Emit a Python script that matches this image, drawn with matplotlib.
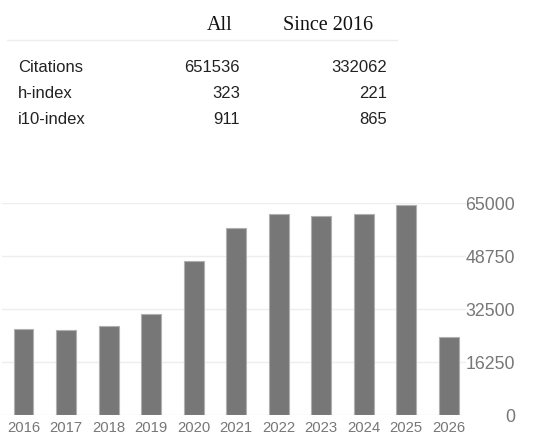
import matplotlib
matplotlib.use("Agg")
import matplotlib.pyplot as plt
from matplotlib.lines import Line2D

# summary table
col_headers = ["All", "Since 2016"]
metrics = ["Citations", "h-index", "i10-index"]
all_vals = [651536, 323, 911]
since_vals = [332062, 221, 865]

# citations per year
years = [2016, 2017, 2018, 2019, 2020, 2021, 2022, 2023, 2024, 2025, 2026]
cites = [26300, 26000, 27300, 30900, 47200, 57300, 61800, 61200, 61600, 64500, 23850]
yticks = [0, 16250, 32500, 48750, 65000]

W, H = 537, 446
fig = plt.figure(figsize=(W / 100, H / 100), dpi=100)


def fx(px):
    return px / W


def fy(py):
    return 1 - py / H


# table header
fig.text(fx(233), fy(29.5), col_headers[0], ha="right", va="baseline",
         family="Liberation Serif", fontsize=14.5, color="#111111")
fig.text(fx(373), fy(29.5), col_headers[1], ha="right", va="baseline",
         family="Liberation Serif", fontsize=14.5, color="#111111")
fig.add_artist(Line2D([fx(7), fx(397)], [fy(40), fy(40)], color="#eeeeee", lw=1))

# table rows
for i, name in enumerate(metrics):
    yb = fy(71.7 + 26.2 * i)
    fig.text(fx(18), yb, name, ha="left", va="baseline",
             family="Liberation Sans", fontsize=12, color="#222222")
    fig.text(fx(240), yb, str(all_vals[i]), ha="right", va="baseline",
             family="Liberation Sans", fontsize=12, color="#222222")
    fig.text(fx(387), yb, str(since_vals[i]), ha="right", va="baseline",
             family="Liberation Sans", fontsize=12, color="#222222")

# bar chart
ax_left, ax_right = 2, 466
ax_top, ax_bot = 203.3, 415
ax = fig.add_axes([fx(ax_left), fy(ax_bot), (ax_right - ax_left) / W, (ax_bot - ax_top) / H])

step = 42.53
x0 = 23.5
ax.set_xlim((ax_left - x0) / step, (ax_right - x0) / step)
ax.set_ylim(0, 65000)

pos = list(range(len(years)))
ax.bar(pos, cites, width=0.47, color="#777777", edgecolor="#b0b0b0", linewidth=0.8, zorder=3)

ax.set_yticks(yticks)
ax.set_yticklabels([str(v) for v in yticks])
ax.yaxis.tick_right()
ax.tick_params(axis="y", length=0, pad=35.5, labelsize=12.8, labelcolor="#777777")
for lab in ax.get_yticklabels():
    lab.set_horizontalalignment("right")
    lab.set_family("Liberation Sans")

ax.set_xticks(pos)
ax.set_xticklabels([str(y) for y in years])
ax.tick_params(axis="x", length=0, pad=4, labelsize=10.7, labelcolor="#777777")
for lab in ax.get_xticklabels():
    lab.set_family("Liberation Sans")

ax.grid(axis="y", color="#eeeeee", linewidth=1, zorder=0)
for s in ax.spines.values():
    s.set_visible(False)
ax.set_facecolor("none")

fig.savefig("out.png", dpi=100)
